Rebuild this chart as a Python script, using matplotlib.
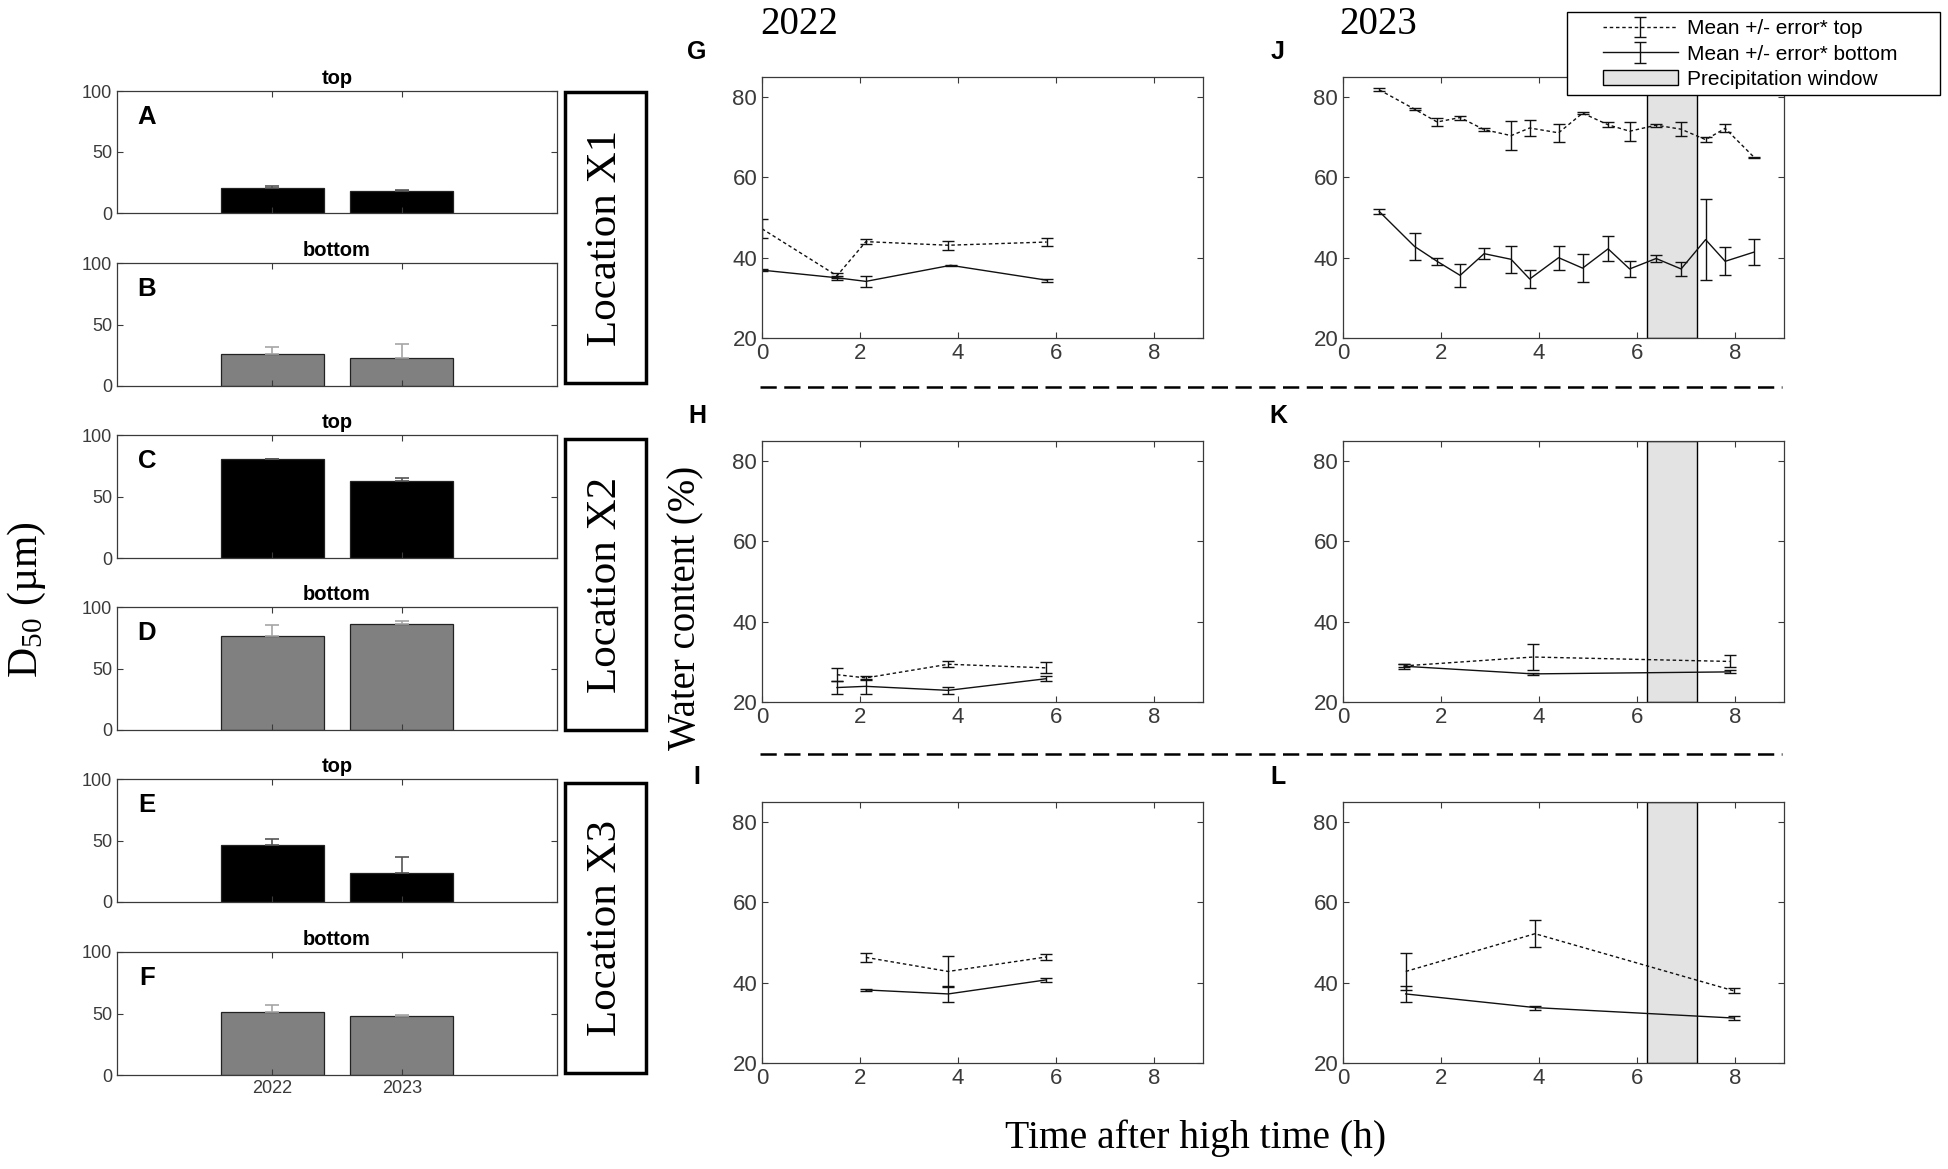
import matplotlib
matplotlib.use("Agg")
import matplotlib.pyplot as plt
from matplotlib.lines import Line2D
from matplotlib.patches import Rectangle, Patch

# --- D50 bar data (left column) ---
bar_years = ["2022", "2023"]
d50_x1_top = [20.3, 18.1]
d50_x1_top_err = [1.6, 1.0]
d50_x1_bot = [25.9, 22.8]
d50_x1_bot_err = [5.7, 11.6]
d50_x2_top = [80.4, 62.6]
d50_x2_top_err = [0.0, 2.5]
d50_x2_bot = [76.8, 86.4]
d50_x2_bot_err = [8.3, 2.1]
d50_x3_top = [46.6, 23.3]
d50_x3_top_err = [4.3, 13.0]
d50_x3_bot = [51.1, 48.3]
d50_x3_bot_err = [5.9, 0.3]

# --- water content, 2022 ---
t_g_top = [0.0, 1.53, 2.12, 3.80, 5.81]
wc_g_top = [47.2, 35.5, 44.0, 43.1, 43.9]
wc_g_top_err = [2.4, 0.6, 0.6, 1.1, 1.1]
t_g_bot = [0.0, 1.53, 2.12, 3.85, 5.81]
wc_g_bot = [36.9, 35.0, 34.1, 38.1, 34.4]
wc_g_bot_err = [0.2, 0.5, 1.4, 0.1, 0.4]

t_h = [1.53, 2.12, 3.80, 5.80]
wc_h_top = [26.8, 26.0, 29.4, 28.5]
wc_h_top_err = [1.6, 0.4, 0.8, 1.4]
wc_h_bot = [23.6, 23.9, 22.9, 25.8]
wc_h_bot_err = [1.7, 1.8, 0.9, 0.6]

t_i = [2.12, 3.80, 5.80]
wc_i_top = [46.3, 42.8, 46.4]
wc_i_top_err = [1.2, 3.9, 0.7]
wc_i_bot = [38.2, 37.2, 40.7]
wc_i_bot_err = [0.2, 1.9, 0.5]

# --- water content, 2023 ---
t_j = [0.74, 1.46, 1.92, 2.39, 2.88, 3.43, 3.81, 4.40, 4.89, 5.41, 5.85, 6.39, 6.90, 7.40, 7.80, 8.39]
wc_j_top = [81.8, 77.0, 73.8, 74.9, 71.9, 70.4, 72.3, 71.1, 76.0, 73.1, 71.5, 73.0, 72.0, 69.4, 72.2, 65.0]
wc_j_top_err = [0.4, 0.2, 1.1, 0.5, 0.4, 3.7, 2.0, 2.3, 0.3, 0.6, 2.4, 0.4, 1.8, 0.6, 1.0, 0.2]
wc_j_bot = [51.5, 42.8, 39.1, 35.6, 41.0, 39.6, 34.7, 40.0, 37.4, 42.2, 37.2, 39.8, 37.2, 44.5, 39.1, 41.4]
wc_j_bot_err = [0.7, 3.3, 0.9, 2.8, 1.3, 3.3, 2.2, 3.0, 3.4, 3.1, 2.1, 0.8, 1.7, 10.0, 3.5, 3.3]

t_k = [1.25, 3.88, 7.89]
wc_k_top = [29.0, 31.2, 30.1]
wc_k_top_err = [0.4, 3.2, 1.5]
wc_k_bot = [28.9, 27.0, 27.5]
wc_k_bot_err = [0.6, 0.2, 0.4]

t_l = [1.28, 3.92, 7.97]
wc_l_top = [42.8, 52.2, 38.0]
wc_l_top_err = [4.7, 3.3, 0.6]
wc_l_bot = [37.2, 33.8, 31.2]
wc_l_bot_err = [1.9, 0.5, 0.6]

precip_window = [6.2, 7.22]

W, H = 1949, 1169
SERIF = ["Liberation Serif", "DejaVu Serif"]
SANS = ["Liberation Sans", "DejaVu Sans"]
NARROW = ["Liberation Sans Narrow", "Liberation Sans", "DejaVu Sans"]
AXC = "#3a3a3a"

plt.rcParams["mathtext.fontset"] = "stix"

fig = plt.figure(figsize=(W / 100, H / 100), dpi=100)


def rect(l, t, r, b):
    # pixel box -> figure fraction
    return [l / W, 1 - b / H, (r - l) / W, (b - t) / H]


def style_axes(ax, fsize, fam):
    for s in ax.spines.values():
        s.set_color(AXC)
        s.set_linewidth(0.9)
    ax.tick_params(direction="in", top=True, right=True, length=4, width=0.8,
                   colors=AXC, labelsize=fsize)
    for lab in ax.get_xticklabels() + ax.get_yticklabels():
        lab.set_family(fam)


# ---------- bar panels ----------
bar_rows = [
    ("A", "top", d50_x1_top, d50_x1_top_err, 91, 213),
    ("B", "bottom", d50_x1_bot, d50_x1_bot_err, 263, 386),
    ("C", "top", d50_x2_top, d50_x2_top_err, 435, 558),
    ("D", "bottom", d50_x2_bot, d50_x2_bot_err, 607, 730),
    ("E", "top", d50_x3_top, d50_x3_top_err, 779, 902),
    ("F", "bottom", d50_x3_bot, d50_x3_bot_err, 952, 1075),
]
xpos = [1, 2]
for k, (letter, title, vals, errs, t, b) in enumerate(bar_rows):
    ax = fig.add_axes(rect(117, t, 557, b))
    if title == "top":
        col, ecol = "black", "#555555"
    else:
        col, ecol = "#808080", "#a6a6a6"
    ax.bar(xpos, vals, width=0.8, color=col, edgecolor="#222222", linewidth=0.9)
    ax.errorbar(xpos, vals, yerr=[[0, 0], errs], fmt="none", ecolor=ecol,
                elinewidth=1.2, capsize=5, capthick=1.2)
    ax.set_xlim(-0.2, 3.2)
    ax.set_ylim(0, 100)
    ax.set_yticks([0, 50, 100])
    ax.set_xticks(xpos)
    if k == len(bar_rows) - 1:
        ax.set_xticklabels(bar_years)
    else:
        ax.set_xticklabels([])
    style_axes(ax, 13, SANS)
    ax.set_title(title, fontsize=14.5, fontweight="bold", family=SANS, pad=5)
    ax.text(0.068, 0.79, letter, transform=ax.transAxes, fontsize=18.5,
            fontweight="bold", family=SANS, ha="center", va="center")

# location boxes
for name, t, b in [("Location X1", 92, 383), ("Location X2", 439, 730), ("Location X3", 783, 1073)]:
    fig.add_artist(Rectangle((565 / W, 1 - b / H), 81 / W, (b - t) / H, fill=False,
                             edgecolor="black", linewidth=2.5, transform=fig.transFigure))
    fig.text(606 / W, 1 - (t + b) / 2 / H, name, rotation=90, ha="center", va="center",
             fontsize=31, family=SERIF)

# ---------- water content panels ----------
line_panels = [
    ("G", t_g_top, wc_g_top, wc_g_top_err, t_g_bot, wc_g_bot, wc_g_bot_err, 762, 77, False),
    ("H", t_h, wc_h_top, wc_h_top_err, t_h, wc_h_bot, wc_h_bot_err, 762, 441, False),
    ("I", t_i, wc_i_top, wc_i_top_err, t_i, wc_i_bot, wc_i_bot_err, 762, 802, False),
    ("J", t_j, wc_j_top, wc_j_top_err, t_j, wc_j_bot, wc_j_bot_err, 1343, 77, True),
    ("K", t_k, wc_k_top, wc_k_top_err, t_k, wc_k_bot, wc_k_bot_err, 1343, 441, True),
    ("L", t_l, wc_l_top, wc_l_top_err, t_l, wc_l_bot, wc_l_bot_err, 1343, 802, True),
]
leg_handles = None
for letter, tt, yt, et, tb, yb, eb, left, top, rain in line_panels:
    ax = fig.add_axes(rect(left, top, left + 441, top + 261))
    if rain:
        ax.axvspan(precip_window[0], precip_window[1], facecolor="#e3e3e3",
                   edgecolor="black", linewidth=1.0, zorder=0)
    h1 = ax.errorbar(tt, yt, yerr=et, color="#111111", linestyle=(0, (2.5, 2)),
                     linewidth=1.0, elinewidth=1.0, capsize=4, capthick=1.0)
    h2 = ax.errorbar(tb, yb, yerr=eb, color="#111111", linestyle="-",
                     linewidth=1.0, elinewidth=1.0, capsize=4, capthick=1.0)
    ax.set_xlim(0, 9)
    ax.set_ylim(20, 85)
    ax.set_xticks([0, 2, 4, 6, 8])
    ax.set_yticks([20, 40, 60, 80])
    style_axes(ax, 16, NARROW)
    fig.text((left - 65) / W, 1 - (top - 25) / H, letter, fontsize=18, fontweight="bold",
             family=SANS, ha="center", va="center")
    if letter == "J":
        leg_handles = [h1, h2, Patch(facecolor="#e3e3e3", edgecolor="black", linewidth=1.0)]

# year headers
fig.text(760 / W, 1 - 25 / H, "2022", fontsize=28, family=SERIF, ha="left", va="center")
fig.text(1339 / W, 1 - 25 / H, "2023", fontsize=28, family=SERIF, ha="left", va="center")

# dashed separators
for y in [387, 754]:
    fig.add_artist(Line2D([760 / W, 1782 / W], [1 - y / H, 1 - y / H], color="black",
                          linewidth=1.8, linestyle=(0, (6.5, 3)), transform=fig.transFigure))

# axis labels
fig.text(686 / W, 1 - 608 / H, "Water content (%)", rotation=90, ha="center", va="center",
         fontsize=28, family=SERIF)
fig.text(27 / W, 1 - 600 / H, r"D$_{\mathregular{50}}$ (µm)", rotation=90, ha="center",
         va="center", fontsize=30, family=SERIF)
fig.text(1196 / W, 1 - 1138 / H, "Time after high time (h)", ha="center", va="center",
         fontsize=28.5, family=SERIF)

# legend: frame drawn by hand so its size matches
fig.add_artist(Rectangle((1567 / W, 1 - 95 / H), 373 / W, 83 / H, facecolor="white",
                         edgecolor="black", linewidth=1.0, transform=fig.transFigure, zorder=4))
leg = fig.legend(leg_handles, ["Mean +/- error* top", "Mean +/- error* bottom", "Precipitation window"],
                 loc="center left", bbox_to_anchor=(1603 / W, 1 - 54 / H), frameon=False,
                 handlelength=3.6, borderaxespad=0, borderpad=0, labelspacing=0.3,
                 handletextpad=0.45, prop={"family": NARROW, "size": 15})
leg.set_zorder(5)

fig.savefig("out.png", dpi=100)
